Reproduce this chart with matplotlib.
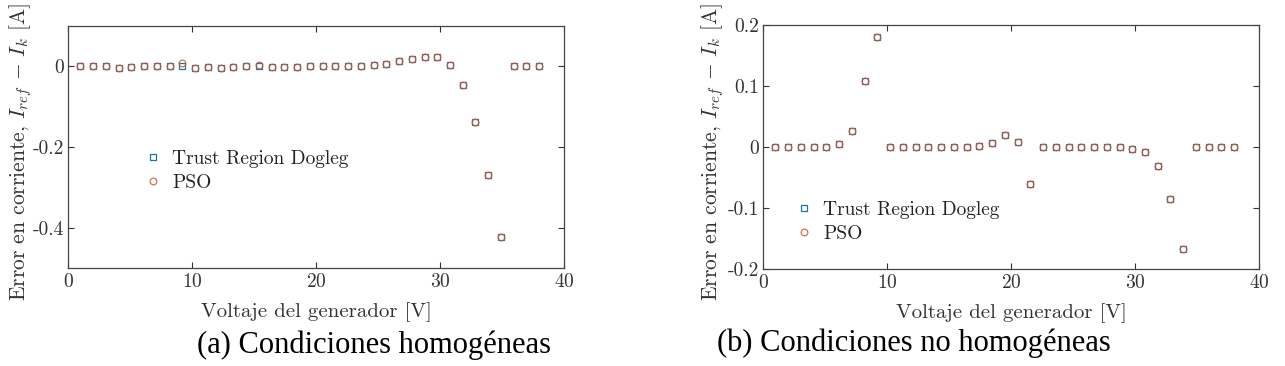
import numpy as np
import matplotlib.pyplot as plt

plt.rcParams['font.family'] = ['cmr10', 'DejaVu Serif']
plt.rcParams['mathtext.fontset'] = 'cm'
plt.rcParams['axes.unicode_minus'] = False
plt.rcParams['axes.formatter.use_mathtext'] = True

# generator voltage [V], same grid in both panels
voltaje = [1.0, 2.03, 3.06, 4.08, 5.11, 6.14, 7.17, 8.19, 9.22, 10.25,
           11.28, 12.31, 13.33, 14.36, 15.39, 16.42, 17.44, 18.47, 19.5, 20.53,
           21.56, 22.58, 23.61, 24.64, 25.67, 26.69, 27.72, 28.75, 29.78, 30.81,
           31.83, 32.86, 33.89, 34.92, 35.94, 36.97, 38.0]

# (a) homogeneous conditions
err_a_trd = [0, 0.001, 0, -0.003, -0.001, 0, 0, 0, 0, -0.004,
             -0.001, -0.003, -0.001, 0, 0.002, -0.002, -0.002, -0.001, 0.001, 0,
             0, 0, 0.001, 0.004, 0.007, 0.012, 0.018, 0.024, 0.022, 0.003,
             -0.047, -0.137, -0.269, -0.422, 0, 0, 0]
err_a_pso = [0, 0.001, 0, -0.003, -0.001, 0, 0, 0, 0.008, -0.003,
             -0.001, -0.003, -0.001, 0, 0.003, -0.002, -0.002, -0.001, 0.001, 0,
             0, 0, 0.001, 0.004, 0.007, 0.012, 0.018, 0.024, 0.022, 0.003,
             -0.047, -0.137, -0.269, -0.422, 0, 0, 0]

# (b) non-homogeneous conditions
err_b_trd = [0, 0, 0, 0, 0, 0.005, 0.026, 0.108, 0.181, 0,
             0, 0, 0, 0, 0, 0, 0.001, 0.0066, 0.019, 0.008,
             -0.060, 0, 0, 0, 0, 0, 0, 0, -0.003, -0.009,
             -0.031, -0.085, -0.167, 0, 0, 0, 0]
err_b_pso = list(err_b_trd)

blue = (0.1, 0.45, 0.68)
orange = (0.78, 0.36, 0.18)

fig = plt.figure(figsize=(12.85, 3.66), dpi=100)
W, H = 1285, 366
ax1 = fig.add_axes([68 / W, 1 - 268 / H, 496 / W, 242 / H])
ax2 = fig.add_axes([763 / W, 1 - 269 / H, 496 / W, 244 / H])

ylabel = r'Error en corriente, $I_{ref}\,-\,I_k$ [A]'

panels = [(ax1, err_a_trd, err_a_pso, (-0.5, 0.1), [-0.4, -0.2, 0], (0.132, 0.52), -0.068),
          (ax2, err_b_trd, err_b_pso, (-0.2, 0.2), [-0.2, -0.1, 0, 0.1, 0.2], (0.043, 0.31), -0.075)]

for ax, trd, pso, ylim, yt, leg_pos, ylab_x in panels:
    ax.plot(voltaje, trd, 's', ms=4.2, mfc='none', mec=blue, mew=0.9,
            label='Trust Region Dogleg')
    ax.plot(voltaje, pso, 'o', ms=4.8, mfc='none', mec=orange, mew=0.9,
            alpha=0.85, label='PSO')
    ax.set_xlim(0, 40)
    ax.set_ylim(*ylim)
    ax.set_xticks([0, 10, 20, 30, 40])
    ax.set_yticks(yt)
    ax.set_yticklabels(['0' if v == 0 else f'{v:g}' for v in yt])
    ax.tick_params(direction='in', top=True, right=True, length=4,
                   labelsize=14, colors='#333333', width=0.8)
    ax.tick_params(axis='y', pad=3)
    for s in ax.spines.values():
        s.set_color('#444444')
        s.set_linewidth(0.9)
    ax.set_xlabel('Voltaje del generador [V]', fontsize=15, color='#333333', labelpad=8)
    ax.set_ylabel(ylabel, fontsize=15.5, color='#333333')
    ax.yaxis.set_label_coords(ylab_x, 0.48)
    ax.legend(loc='upper left', bbox_to_anchor=leg_pos, frameon=False,
              fontsize=14, handletextpad=0.4, labelspacing=0.3,
              borderaxespad=0, handlelength=1.2, labelcolor='#222222')

fig.text(374 / W, 1 - 345 / H, '(a) Condiciones homogéneas', ha='center', va='center',
         fontsize=22, family='Liberation Serif')
fig.text(914 / W, 1 - 343 / H, '(b) Condiciones no homogéneas', ha='center', va='center',
         fontsize=22, family='Liberation Serif')

fig.savefig('out.png', dpi=100)
